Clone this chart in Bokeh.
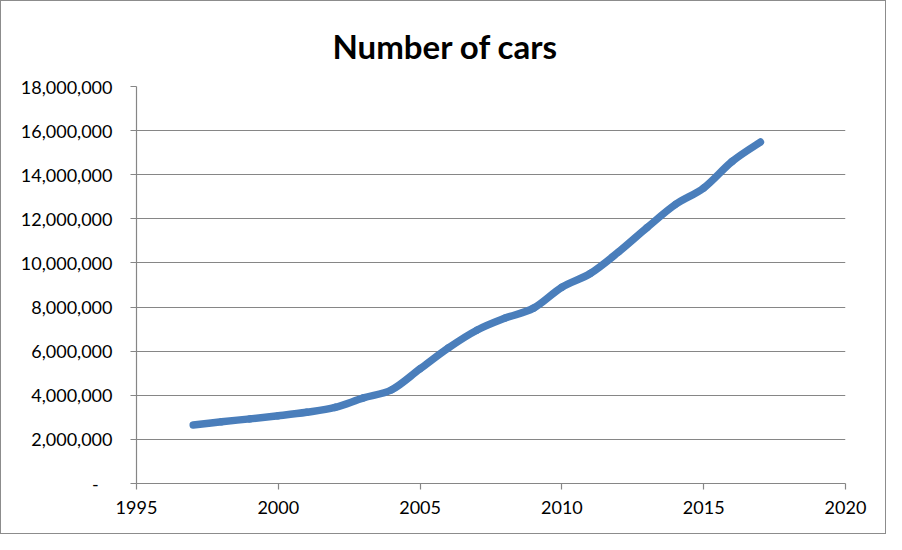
from bokeh.plotting import figure
from bokeh.models import Range1d, FixedTicker, CustomJSTickFormatter, Title, ColumnDataSource
from bokeh.embed import file_html
from bokeh.resources import INLINE

# ---- data ----
years = [1997, 1998, 1999, 2000, 2001, 2002, 2003, 2004, 2005, 2006, 2007,
         2008, 2009, 2010, 2011, 2012, 2013, 2014, 2015, 2016, 2017]
cars = [2650000, 2800000, 2930000, 3070000, 3230000, 3450000, 3880000, 4250000,
        5200000, 6150000, 6950000, 7500000, 7950000, 8900000, 9520000, 10500000,
        11600000, 12650000, 13400000, 14600000, 15480000]
x_ticks = [1995, 2000, 2005, 2010, 2015, 2020]
y_ticks = [0, 2000000, 4000000, 6000000, 8000000, 10000000, 12000000,
           14000000, 16000000, 18000000]
title_text = "Number of cars"

# smooth (Excel-like) curve via cubic Bezier segments built from the data
n = len(years)
x0, y0, x1, y1, cx0, cy0, cx1, cy1 = [], [], [], [], [], [], [], []
for i in range(n - 1):
    pm = max(i - 1, 0)
    pp = min(i + 2, n - 1)
    x0.append(years[i]); y0.append(cars[i])
    x1.append(years[i + 1]); y1.append(cars[i + 1])
    cx0.append(years[i] + (years[i + 1] - years[pm]) / 6)
    cy0.append(cars[i] + (cars[i + 1] - cars[pm]) / 6)
    cx1.append(years[i + 1] - (years[pp] - years[i]) / 6)
    cy1.append(cars[i + 1] - (cars[pp] - cars[i]) / 6)
src = ColumnDataSource(dict(x0=x0, y0=y0, x1=x1, y1=y1,
                            cx0=cx0, cy0=cy0, cx1=cx1, cy1=cy1))

FONT = "Lato"
GRAY = "#868686"

p = figure(width=886, height=534, output_backend="svg", toolbar_location=None,
           x_range=Range1d(1995, 2020), y_range=Range1d(0, 18000000),
           min_border_left=135, min_border_right=42,
           min_border_top=85, min_border_bottom=52)
p.styles = {"border": "1px solid #8c8c8c"}
p.outline_line_color = None
p.background_fill_color = "white"
p.border_fill_color = "white"

t = Title(text=title_text, text_font=FONT, text_font_size="33px",
          text_font_style="bold", text_color="black", align="left",
          offset=196, standoff=42)
p.add_layout(t, "above")

p.bezier(x0="x0", y0="y0", x1="x1", y1="y1", cx0="cx0", cy0="cy0",
         cx1="cx1", cy1="cy1", source=src, line_color="#4A7EBB",
         line_width=7.5, line_cap="round")

# axes
p.xaxis.ticker = FixedTicker(ticks=x_ticks)
p.yaxis.ticker = FixedTicker(ticks=y_ticks)
p.yaxis.formatter = CustomJSTickFormatter(code="""
    if (tick == 0) { return '-\u00a0\u00a0\u00a0'; }
    return Math.round(tick).toLocaleString('en-US');
""")
for ax in (p.xaxis[0], p.yaxis[0]):
    ax.axis_line_color = GRAY
    ax.axis_line_width = 1.2
    ax.major_tick_line_color = GRAY
    ax.major_tick_line_width = 1.2
    ax.major_tick_out = 6
    ax.major_tick_in = 0
    ax.minor_tick_line_color = None
    ax.major_label_text_font = FONT
    ax.major_label_text_font_size = "18px"
    ax.major_label_text_color = "black"
p.yaxis.major_label_standoff = 18
p.xaxis.major_label_standoff = 11

p.xgrid.grid_line_color = None
p.ygrid.grid_line_color = GRAY
p.ygrid.grid_line_width = 1.2

open("out.html", "w").write(file_html(p, INLINE))
